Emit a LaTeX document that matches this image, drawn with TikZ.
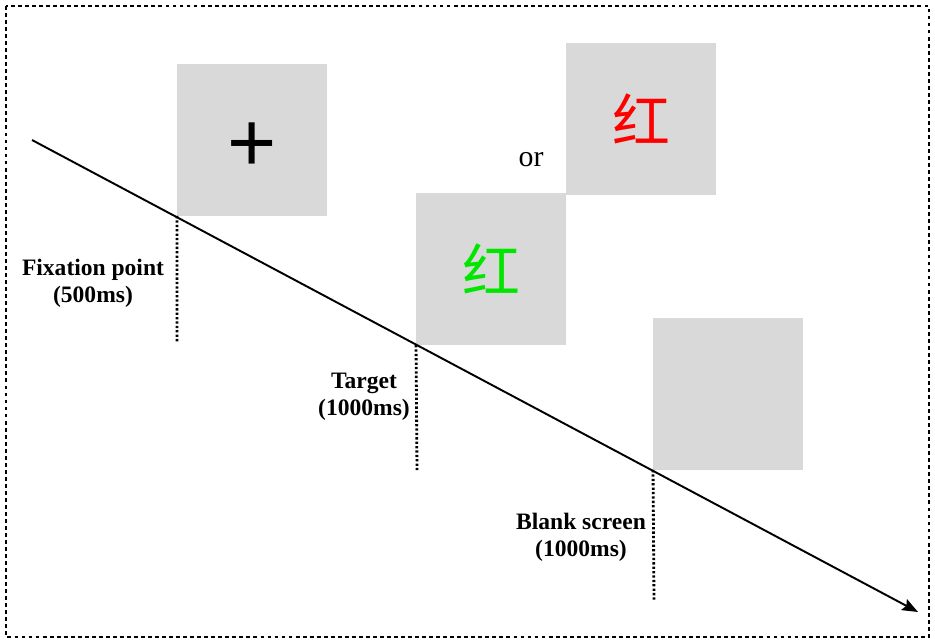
\documentclass[tikz,border=0pt]{standalone}
\usepackage{fontspec}
\setmainfont{Liberation Serif}
\newfontfamily\cjk{Noto Sans CJK SC}
\newfontfamily\plusfont{Liberation Sans}
\usepackage{tikz}
\usetikzlibrary{arrows.meta}
\definecolor{screengray}{RGB}{217,217,217}
\definecolor{hanred}{RGB}{255,0,0}
\definecolor{hangreen}{RGB}{0,230,0}

\begin{document}
\begin{tikzpicture}[x=0.02cm, y=-0.02cm,
  screen/.style = {fill=screengray,minimum width=3cm,minimum height=3.04cm,
        inner sep=0pt,outer sep=0pt},
  label/.style = {align=center,font=\fontsize{13.4}{15.5}\selectfont\bfseries},
  tick/.style = {line width=1.6pt,dash pattern=on 1.3pt off 1.2pt},
  timeline/.style = {line width=1.1pt,-{Stealth[length=9pt,width=7pt,inset=1.5pt]}}
]
 \useasboundingbox (0,0) rectangle (935,643);
 \draw[line width=1.5pt,dash pattern=on 2.2pt off 1.8pt] (6,6) rectangle (929,637);
 % screens
 \node[screen] (fix)   at (252,140) {};
 \node[font=\plusfont\fontsize{48}{48}\selectfont] (cross) at ([yshift=-0.15cm]fix.center) {+};
 \node[screen] (red)   at (641,119) {\cjk\fontsize{33}{33}\selectfont\color{hanred}红};
 \node[screen] (green) at (491,269) {\cjk\fontsize{33}{33}\selectfont\color{hangreen}红};
 \node[screen] (blank) at (728,394) {};
 \node[font=\fontsize{17}{17}\selectfont] (or) at (531,160) {or};
 % time line
 \coordinate (t0) at (32,140);
 \coordinate (t1) at (918,612);
 \draw[timeline] (t0) -- (t1);
 \coordinate (d1) at (177,343);
 \coordinate (d2) at (417,470);
 \coordinate (d3) at (654,600);
 \draw[tick] (fix.south west) -- (d1);
 \draw[tick] (green.south west) -- (d2);
 \draw[tick] (blank.south west) -- (d3);
 % labels
 \node[label] (lfix)   at (93,283)  {Fixation point\\(500ms)};
 \node[label] (ltar)   at (364,397) {Target\\(1000ms)};
 \node[label] (lblank) at (581,537) {Blank screen\\(1000ms)};
\end{tikzpicture}
\end{document}
